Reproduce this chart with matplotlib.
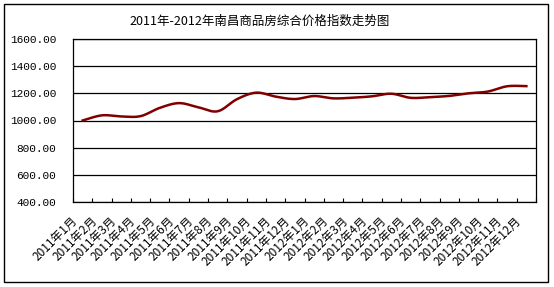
import numpy as np
import matplotlib
matplotlib.use("Agg")
import matplotlib.pyplot as plt
from matplotlib.patches import Rectangle
from matplotlib.transforms import ScaledTranslation

plt.rcParams['font.family'] = ['Noto Sans CJK SC', 'DejaVu Sans']

title = "2011年-2012年南昌商品房综合价格指数走势图"
months = [f"2011年{m}月" for m in range(1, 13)] + [f"2012年{m}月" for m in range(1, 13)]
values = [1000, 1038, 1030, 1032, 1093, 1128, 1097, 1068, 1157, 1205, 1176, 1158,
          1180, 1163, 1168, 1178, 1197, 1167, 1172, 1181, 1200, 1213, 1252, 1253]
yticks = [400, 600, 800, 1000, 1200, 1400, 1600]


def smooth(xs, ys, n=20):
    # Catmull-Rom style smoothing (as in spreadsheet "smoothed line")
    xs = np.asarray(xs, float)
    ys = np.asarray(ys, float)
    px = np.concatenate([[xs[0]], xs, [xs[-1]]])
    py = np.concatenate([[ys[0]], ys, [ys[-1]]])
    ox, oy = [], []
    t = np.linspace(0, 1, n, endpoint=False)
    for i in range(1, len(px) - 2):
        p0x, p1x, p2x, p3x = px[i - 1], px[i], px[i + 1], px[i + 2]
        p0y, p1y, p2y, p3y = py[i - 1], py[i], py[i + 1], py[i + 2]
        c1x = p1x + (p2x - p0x) / 6
        c1y = p1y + (p2y - p0y) / 6
        c2x = p2x - (p3x - p1x) / 6
        c2y = p2y - (p3y - p1y) / 6
        bx = (1 - t) ** 3 * p1x + 3 * (1 - t) ** 2 * t * c1x + 3 * (1 - t) * t ** 2 * c2x + t ** 3 * p2x
        by = (1 - t) ** 3 * p1y + 3 * (1 - t) ** 2 * t * c1y + 3 * (1 - t) * t ** 2 * c2y + t ** 3 * p2y
        ox.extend(bx)
        oy.extend(by)
    ox.append(xs[-1])
    oy.append(ys[-1])
    return np.array(ox), np.array(oy)


fig = plt.figure(figsize=(5.54, 2.87), dpi=100)
fig.patch.set_facecolor('white')
fig.patches.append(Rectangle((4 / 554, 1 - 282 / 287), 544 / 554, 278 / 287,
                             transform=fig.transFigure, fill=False,
                             edgecolor='black', linewidth=1.0))

ax = fig.add_axes([73 / 554, 1 - 202 / 287, 463 / 554, 163 / 287])
x = np.arange(len(months))
sx, sy = smooth(x, values)
ax.plot(sx, sy, color='#800000', linewidth=1.8, zorder=3)

ax.set_xlim(-0.5, len(months) - 0.5)
ax.set_ylim(400, 1600)
ax.set_yticks(yticks)
ax.set_yticklabels([f"{v:.2f}" for v in yticks], family='Liberation Mono', fontsize=8)
ax.yaxis.grid(True, color='black', linewidth=0.9)
ax.set_axisbelow(True)
ax.tick_params(axis='y', length=0, pad=12)

ax.set_xticks(np.arange(-0.5, len(months) + 0.5, 1), minor=False)
ax.set_xticklabels([])
ax.tick_params(axis='x', which='major', direction='in', length=3, width=0.8)
ax.set_xticks(x, minor=True)
ax.set_xticklabels(months, minor=True, rotation=45, ha='right', va='center',
                   rotation_mode='anchor', fontsize=8.5)
ax.tick_params(axis='x', which='minor', length=0, pad=12)
shift = ScaledTranslation(-7 / 100, 0, fig.dpi_scale_trans)
for lbl in ax.get_xticklabels(minor=True):
    lbl.set_transform(lbl.get_transform() + shift)

for s in ax.spines.values():
    s.set_color('black')
    s.set_linewidth(0.9)

fig.text(260 / 554, 1 - 21 / 287, title, ha='center', va='center', fontsize=9)

fig.savefig('out.png', dpi=100)
